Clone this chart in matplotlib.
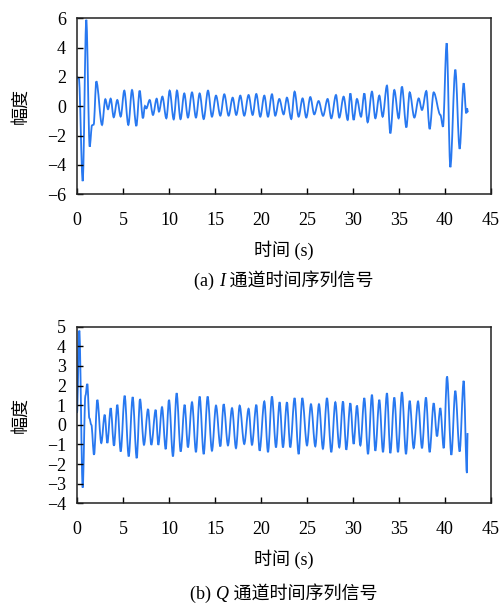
import matplotlib
matplotlib.use("Agg")
import matplotlib.pyplot as plt
from matplotlib.path import Path
from matplotlib.patches import PathPatch
from matplotlib.offsetbox import TextArea, HPacker, AnnotationBbox

plt.rcParams['font.family'] = ['Liberation Serif', 'Noto Sans CJK SC']
plt.rcParams['axes.unicode_minus'] = True

# I channel: extrema (time s, amplitude)
t_i = [0.0, 0.2, 0.62, 1.01, 1.38, 1.63, 1.81, 2.10, 2.72, 3.08, 3.37, 3.66, 3.99, 4.38,
       4.75, 5.14, 5.58, 5.98, 6.45, 6.81, 7.17, 7.39, 7.54, 7.90, 8.26, 8.66, 8.91, 9.28,
       9.71, 10.07, 10.51, 10.87, 11.25, 11.66, 12.06, 12.50, 12.93, 13.33, 13.77, 14.24,
       14.67, 15.11, 15.58, 16.01, 16.48, 16.92, 17.31, 17.75, 18.18, 18.65, 19.09, 19.49,
       19.92, 20.36, 20.76, 21.19, 21.55, 21.99, 22.46, 22.82, 23.29, 23.65, 24.09, 24.52,
       24.92, 25.36, 25.79, 26.26, 26.75, 27.24, 27.64, 28.15, 28.51, 28.98, 29.42, 29.71,
       30.07, 30.43, 30.87, 31.23, 31.59, 32.06, 32.43, 32.86, 33.22, 33.69, 34.06, 34.49,
       34.96, 35.32, 35.80, 36.16, 36.67, 37.14, 37.50, 37.97, 38.33, 38.77, 39.50, 39.78,
       40.18, 40.58, 41.12, 41.59, 42.03, 42.31, 42.39, 42.50]
v_i = [2.0, 1.9, -5.1, 5.9, -2.75, -1.3, -1.25, 1.7, -1.27, 0.48, -0.2, 0.52, -0.75, 0.43,
       -0.7, 1.07, -1.27, 1.11, -1.34, 1.07, -0.82, 0.02, -0.14, 0.43, -0.59, 0.52, -0.36, 0.66,
       -0.82, 1.07, -0.89, 1.07, -0.88, 0.88, -0.77, 0.95, -0.77, 0.88, -0.87, 1.07,
       -0.71, 0.73, -0.64, 0.82, -0.64, 0.59, -0.59, 0.73, -0.64, 0.77, -0.59, 0.84,
       -0.71, 0.73, -0.71, 0.82, -0.64, 0.50, -0.55, 0.59, -0.87, 1.0, -0.71, 0.54,
       -0.77, 0.63, -0.55, 0.36, -0.65, 0.50, -0.82, 0.77, -0.77, 0.66, -0.93, 0.88,
       -0.93, 0.50, -0.71, 0.88, -1.09, 1.0, -0.82, 0.73, -0.71, 1.41, -1.84, 1.11,
       -0.82, 1.34, -1.44, 0.95, -0.77, 0.54, -0.25, 1.04, -1.55, 0.95, -0.59, -1.39,
       4.3, -4.15, 2.5, -2.9, 1.57, -0.48, -0.14, -0.41]

# Q channel
t_q = [0.0, 0.25, 0.62, 0.91, 1.12, 1.34, 1.56, 1.85, 2.21, 2.64, 3.01, 3.30, 3.66, 4.02,
       4.38, 4.75, 5.18, 5.62, 6.05, 6.49, 6.85, 7.28, 7.72, 8.08, 8.55, 8.84, 9.24, 9.64,
       10.0, 10.43, 10.83, 11.27, 11.70, 12.06, 12.50, 12.93, 13.33, 13.77, 14.20, 14.67,
       15.11, 15.58, 15.94, 16.41, 16.85, 17.28, 17.68, 18.18, 18.65, 19.02, 19.49, 19.85,
       20.36, 20.76, 21.19, 21.63, 22.02, 22.39, 22.82, 23.18, 23.65, 24.09, 24.49, 25.00,
       25.43, 25.90, 26.30, 26.73, 27.17, 27.64, 28.08, 28.51, 28.91, 29.27, 29.71, 30.07,
       30.43, 30.80, 31.23, 31.63, 32.06, 32.43, 32.86, 33.26, 33.69, 34.06, 34.49, 34.89,
       35.32, 35.76, 36.16, 36.59, 37.07, 37.50, 37.93, 38.33, 38.77, 39.13, 39.49, 39.86,
       40.22, 40.69, 41.12, 41.59, 42.03, 42.38, 42.45]
v_q = [0.6, 4.8, -3.2, 1.48, 2.09, 0.34, 0.0, -1.53, 1.27, -0.93, 0.51, -0.93, 0.85, -1.07,
       1.02, -1.36, 1.48, -1.61, 1.41, -1.70, 1.31, -1.02, 0.80, -1.02, 0.76, -1.02, 0.90, -1.24,
       1.27, -1.61, 1.61, -1.36, 1.02, -1.15, 1.15, -1.39, 1.44, -1.49, 1.44, -1.32,
       0.98, -1.10, 1.05, -1.05, 0.85, -1.19, 0.98, -0.98, 0.82, -1.02, 1.02, -1.32,
       1.19, -1.39, 1.44, -1.15, 1.15, -1.15, 1.15, -1.15, 1.36, -1.49, 1.36, -1.05,
       1.05, -1.10, 1.05, -1.22, 1.36, -1.39, 1.15, -1.15, 1.19, -1.27, 1.10, -0.98,
       0.98, -1.05, 1.36, -1.49, 1.53, -1.32, 1.27, -1.39, 1.61, -1.44, 1.39, -1.39,
       1.66, -1.49, 1.22, -1.19, 1.19, -1.19, 1.39, -1.39, 1.10, -0.59, 0.85, -1.19,
       2.46, -1.53, 1.73, -1.36, 2.24, -2.46, -0.42]

x_ticks = [0, 5, 10, 15, 20, 25, 30, 35, 40, 45]
yticks_i = [-6, -4, -2, 0, 2, 4, 6]
yticks_q = [-4, -3, -2, -1, 0, 1, 2, 3, 4, 5]
channels = ['I', 'Q']
tags = ['(a) ', '(b) ']

line_color = '#2878f0'
W, H = 503, 606


def smooth_path(t, v):
    # cubic segments with flat tangents at each extremum (drawing style only)
    verts = [(t[0], v[0])]
    codes = [Path.MOVETO]
    for k in range(1, len(t)):
        dt = t[k] - t[k - 1]
        verts += [(t[k - 1] + dt / 3, v[k - 1]), (t[k] - dt / 3, v[k]), (t[k], v[k])]
        codes += [Path.CURVE4] * 3
    return Path(verts, codes)


fig = plt.figure(figsize=(W / 100, H / 100), dpi=100)
ax1 = fig.add_axes([77 / W, 1 - 194.3 / H, 414 / W, 176 / H])
ax2 = fig.add_axes([77 / W, 1 - 503.3 / H, 414 / W, 176.6 / H])

panels = [
    (ax1, t_i, v_i, yticks_i, (-6, 6), 250, 281, 0),
    (ax2, t_q, v_q, yticks_q, (-4, 5), 559, 594, 1),
]

fp = dict(fontsize=13)
for ax, t, v, yt, ylim, xlab_y, cap_y, k in panels:
    ax.add_patch(PathPatch(smooth_path(t, v), fill=False, edgecolor=line_color, lw=1.3))
    ax.set_xlim(0, 45)
    ax.set_ylim(*ylim)
    ax.set_xticks(x_ticks)
    ax.set_yticks(yt)
    ax.tick_params(direction='in', length=4, width=1, labelsize=13,
                   top=False, right=False)
    ax.tick_params(axis='x', pad=13)
    ax.tick_params(axis='y', pad=8)
    for s in ax.spines.values():
        s.set_linewidth(1.1)
        s.set_color('#222222')
    yc = (ax.get_position().y0 + ax.get_position().y1) / 2
    fig.text(21 / W, yc, '幅度', rotation=90, ha='center', va='center', **fp)
    fig.text(284 / W, 1 - xlab_y / H, '时间 (s)', ha='center', va='center', **fp)

    parts = [TextArea(tags[k], textprops=fp),
             TextArea(channels[k], textprops=dict(fp, style='italic')),
             TextArea(' 通道时间序列信号', textprops=fp)]
    box = HPacker(children=parts, align='baseline', pad=0, sep=0)
    ab = AnnotationBbox(box, (284 / W, 1 - cap_y / H), xycoords='figure fraction',
                        frameon=False, box_alignment=(0.5, 0.5), pad=0)
    fig.add_artist(ab)

fig.savefig('out.png', dpi=100)
